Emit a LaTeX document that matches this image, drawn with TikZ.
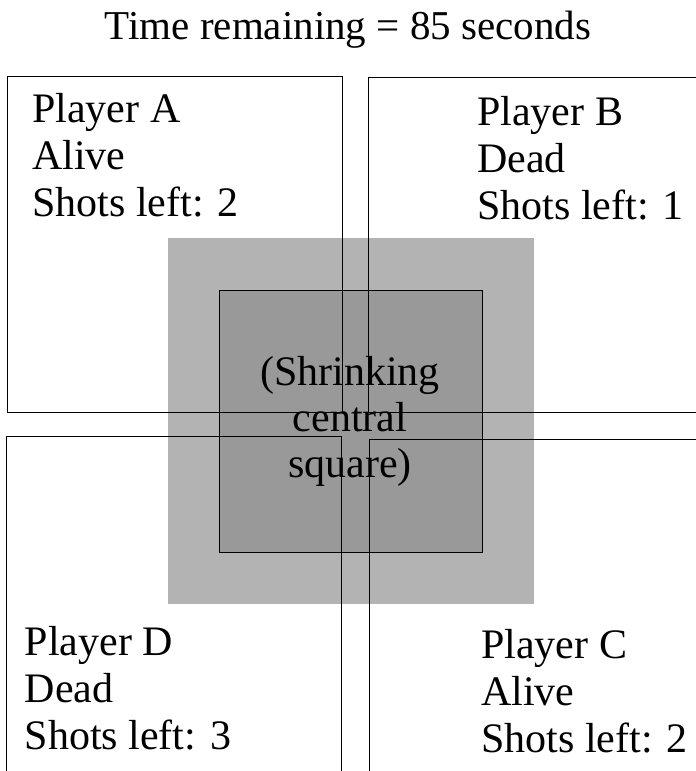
\documentclass[tikz,border=0pt]{standalone}
\usepackage{fontspec}
\setmainfont{Liberation Serif}
\begin{document}
\begin{tikzpicture}[x=1pt,y=-1pt,
  playerbox/.style={draw=black,line width=0.8pt},
  outersq/.style={fill={rgb,255:red,179;green,179;blue,179}},
  innersq/.style={fill={rgb,255:red,153;green,153;blue,153},draw=black,line width=0.8pt},
  lbl/.style={inner sep=0pt,anchor=base west,font=\fontsize{42}{47}\selectfont},
  clbl/.style={inner sep=0pt,anchor=base,font=\fontsize{42}{46}\selectfont},
  ttl/.style={inner sep=0pt,anchor=base,font=\fontsize{41}{46}\selectfont}]
\useasboundingbox (0,0) rectangle (696,771);
\clip (0,0) rectangle (696,771);
% central squares
\path[outersq] (168,238) rectangle (534,604);
\path[innersq] (219,290) rectangle (482,552);
% player boxes
\draw[playerbox] (7.5,76) rectangle (342,412);
\draw[playerbox] (368,77) rectangle (710,412);
\draw[playerbox] (6.5,436) rectangle (341,790);
\draw[playerbox] (369,439) rectangle (710,790);
% title
\node[ttl] (title) at (348,39.5) {Time remaining = 85 seconds};
% labels
\node[lbl] (pa) at (32,122) {\begin{tabular}[t]{@{}l@{}}Player A\\Alive\\Shots left: 2\end{tabular}};
\node[lbl] (pb) at (477,125) {\begin{tabular}[t]{@{}l@{}}Player B\\Dead\\Shots left: 1\end{tabular}};
\node[lbl] (pd) at (24.5,655) {\begin{tabular}[t]{@{}l@{}}Player D\\Dead\\Shots left: 3\end{tabular}};
\node[lbl] (pc) at (481,658) {\begin{tabular}[t]{@{}l@{}}Player C\\Alive\\Shots left: 2\end{tabular}};
\node[clbl] (center) at (350,385) {\begin{tabular}[t]{@{}c@{}}(Shrinking\\central\\square)\end{tabular}};
\end{tikzpicture}
\end{document}
